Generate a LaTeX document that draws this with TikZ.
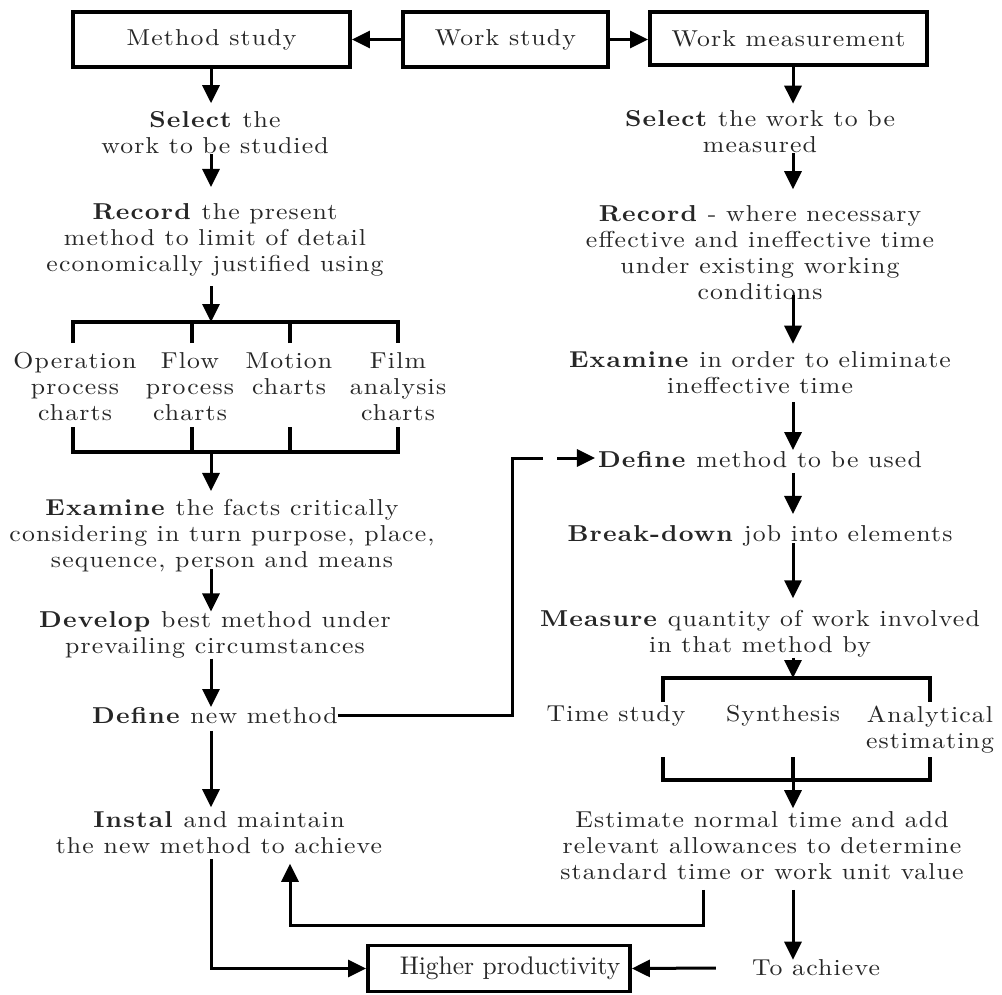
\documentclass[tikz,border=0pt]{standalone}
\usepackage{fontspec}
\setmainfont{lmroman10-regular.otf}[BoldFont=lmroman10-bold.otf, FakeStretch=1.12, LetterSpace=5]
\newfontfamily\hpfont{lmroman10-regular.otf}
\usetikzlibrary{arrows.meta,calc}
\tikzset{
  box/.style={draw, line width=3.8pt, inner sep=0pt, minimum height=55pt,
    font=\fontsize{23}{26}\selectfont, text=black!85},
  txt/.style={align=center, inner sep=0pt, text=black!85,
    font=\fontsize{23}{26}\selectfont},
  arr/.style={-{Triangle[length=18pt,width=17pt]}, line width=3pt},
  ln/.style={line width=3pt},
  bar/.style={line width=3.6pt},
}
\begin{document}
\begin{tikzpicture}[x=1pt, y=-1pt]
\useasboundingbox (0,0) rectangle (1002,994);

% column axes
\coordinate (axisL) at (211,0);
\coordinate (axisR) at (793,0);

% top row
\node[box, minimum width=277pt] (ms) at (211.5,39.5) {Method study};
\node[box, minimum width=205pt] (ws) at (505.5,39.5) {Work study};
\node[box, minimum width=277pt, minimum height=53pt] (wm) at (788.5,38.5) {Work measurement};
\draw[arr] (ws.west) -- (ms.east);
\draw[arr] (ws.east) -- (ws.east -| wm.west);

% method study column
\node[txt] (msel) at (215,132.5) {\textbf{Select} the\\work to be studied};
\node[txt] (mrec) at (215,239.5) {\textbf{Record} the present\\method to limit of detail\\economically justified using};
\node[txt] (op) at (75,387) {Operation\\process\\charts};
\node[txt] (fl) at (190,387) {Flow\\process\\charts};
\node[txt] (mo) at (289,374) {Motion\\charts};
\node[txt] (fi) at (398,387) {Film\\analysis\\charts};
\node[txt] (mexa) at (222,535.5) {\textbf{Examine} the facts critically\\considering in turn purpose, place,\\sequence, person and means};
\node[txt] (mdev) at (215,635) {\textbf{Develop} best method under\\prevailing circumstances};
\node[txt] (mdef) at (215,715.5) {\textbf{Define} new method};
\node[txt] (mins) at (219,832.5) {\textbf{Instal} and maintain\\the new method to achieve};

% chart brackets
\coordinate (ltop) at (0,322);
\coordinate (lbot) at (0,452);
\coordinate (lt1) at (73,343);
\coordinate (lt2) at (192,343);
\coordinate (lt3) at (290,343);
\coordinate (lt4) at (398,343);
\coordinate (lb1) at (73,427);
\coordinate (lb2) at (192,427);
\coordinate (lb3) at (290,427);
\coordinate (lb4) at (398,427);
\draw[bar] (lt1) -- (lt1 |- ltop) -- (lt4 |- ltop) -- (lt4);
\draw[bar] (lt2) -- (lt2 |- ltop);
\draw[bar] (lt3) -- (lt3 |- ltop);
\draw[bar] (lb1) -- (lb1 |- lbot) -- (lb4 |- lbot) -- (lb4);
\draw[bar] (lb2) -- (lb2 |- lbot);
\draw[bar] (lb3) -- (lb3 |- lbot);

% method study arrows
\draw[arr] (axisL |- ms.south) -- ($(axisL |- msel.north)+(0,-8)$);
\draw[arr] (axisL |- msel.south) -- ($(axisL |- mrec.north)+(0,-16)$);
\draw[arr] ($(axisL |- mrec.south)+(0,10)$) -- (axisL |- ltop);
\draw[arr] (axisL |- lbot) -- ($(axisL |- mexa.north)+(0,-8)$);
\draw[arr] ($(axisL |- mexa.south)+(0,-3)$) -- (axisL |- mdev.north);
\draw[arr] (axisL |- mdev.south) -- (axisL |- mdef.north);
\draw[arr] ($(axisL |- mdef.south)+(0,7)$) -- ($(axisL |- mins.north)+(0,-4)$);

% work measurement column
\node[txt] (wsel) at (760,132) {\textbf{Select} the work to be\\measured};
\node[txt] (wrec) at (760,252.5) {\textbf{Record} - where necessary\\effective and ineffective time\\under existing working\\conditions};
\node[txt] (wexa) at (760,373) {\textbf{Examine} in order to eliminate\\ineffective time};
\node[txt] (wdef) at (760,459.5) {\textbf{Define} method to be used};
\node[txt] (wbrk) at (760,535.5) {\textbf{Break-down} job into elements};
\node[txt] (wmea) at (760,634) {\textbf{Measure} quantity of work involved\\in that method by};
\node[txt] (tst) at (616,715.5) {Time study};
\node[txt] (syn) at (783,715.5) {Synthesis};
\node[txt] (ana) at (930,730) {Analytical\\estimating};
\node[txt] (west) at (762,845.5) {Estimate normal time and add\\relevant allowances to determine\\standard time or work unit value};
\node[txt] (toach) at (816,968) {To achieve};

% technique brackets
\coordinate (rtop) at (0,678);
\coordinate (rbot) at (0,780);
\coordinate (rt1) at (663,702);
\coordinate (rt2) at (930,702);
\coordinate (rb1) at (663,757);
\coordinate (rb2) at (793,757);
\coordinate (rb3) at (930,757);
\draw[bar] (rt1) -- (rt1 |- rtop) -- (rt2 |- rtop) -- (rt2);
\draw[bar] (rb1) -- (rb1 |- rbot) -- (rb3 |- rbot) -- (rb3);
\draw[bar] (rb2) -- (rb2 |- rbot);

% work measurement arrows
\draw[arr] (axisR |- wm.south) -- ($(axisR |- wsel.north)+(0,-7)$);
\draw[arr] (axisR |- wsel.south) -- ($(axisR |- wrec.north)+(0,-16)$);
\draw[arr] ($(axisR |- wrec.south)+(0,-5)$) -- ($(axisR |- wexa.north)+(0,-8)$);
\draw[arr] ($(axisR |- wexa.south)+(0,8)$) -- ($(axisR |- wdef.north)+(0,-1)$);
\draw[arr] ($(axisR |- wdef.south)+(0,5)$) -- ($(axisR |- wbrk.north)+(0,-11)$);
\draw[arr] ($(axisR |- wbrk.south)+(0,-3)$) -- ($(axisR |- wmea.north)+(0,-12)$);
\draw[arr] (axisR |- wmea.south) -- (axisR |- rtop);
\draw[arr] (axisR |- rbot) -- ($(axisR |- west.north)+(0,-3)$);
\draw[arr] ($(axisR |- west.south)+(0,10)$) -- (axisR |- toach.north);

% new method carried over to work measurement
\coordinate (jx) at (512,458);
\coordinate (jx2) at (543,458);
\coordinate (jx3) at (557,458);
\draw[ln] (mdef.east) -| (jx) -- (jx2);
\draw[arr, shorten >=3pt] (jx3) -- (jx3 -| wdef.west);

% standard time fed back to installation
\coordinate (fbR) at (703,925);
\coordinate (fbL) at (290,925);
\draw[arr] ($(fbR |- west.south)+(0,10)$) -- (fbR) -- (fbL) -- ($(fbL |- mins.south)+(0,10)$);

% outcome
\node[draw, line width=3.8pt, inner sep=0pt, minimum width=262pt, minimum height=46pt,
  font=\hpfont\fontsize{25.5}{30}\selectfont, text=black!85] (hp) at (499,968.5)
  {\hspace*{22pt}Higher productivity};
\draw[arr] ($(axisL |- mins.south)+(0,5)$) |- (hp.west);
\draw[arr] ($(toach.west)+(-36,0)$) -- (hp.east);
\end{tikzpicture}
\end{document}
